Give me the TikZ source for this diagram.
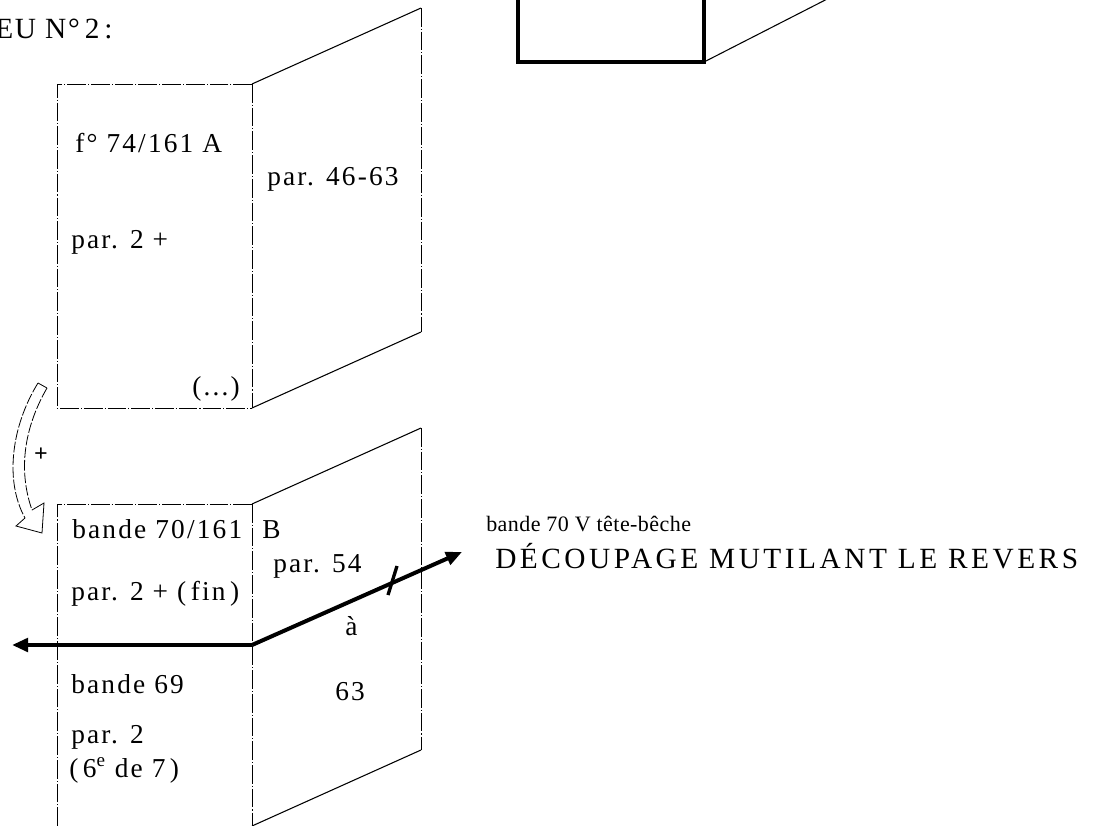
\documentclass[tikz,border=0pt]{standalone}
\usepackage{fontspec}
\setmainfont{Liberation Serif}
\newfontfamily\bodyf[LetterSpace=8]{Liberation Serif}
\newfontfamily\capf[LetterSpace=12]{Liberation Serif}
\newfontfamily\smf[LetterSpace=2]{Liberation Serif}
\newfontfamily\titf[LetterSpace=6]{Liberation Serif}
\usetikzlibrary{arrows.meta}
\begin{document}
\begin{tikzpicture}[x=0.75pt,y=-0.75pt,
  lbl/.style={anchor=base west, inner sep=0pt, font=\bodyf\fontsize{20.5}{24}\selectfont},
  edge/.style={line width=0.8pt},
  dashedge/.style={line width=0.6pt, dash pattern=on 14pt off 1.5pt on 0.8pt off 1.5pt},
  hollow/.style={line width=0.6pt, dash pattern=on 8pt off 1.5pt},
  bigarrow/.style={line width=3pt, -{Triangle[length=12pt,width=10pt]}},
]
\useasboundingbox (0,0) rectangle (1110,825);

% ---------- title ----------
\node[anchor=base west, inner sep=0pt, font=\titf\fontsize{22}{26}\selectfont] (title) at (-5,38) {EU N°\,2\,:};

% ---------- top-right thick box ----------
\draw[line width=3pt] (518,-6) -- (518,62) -- (704,62) -- (704,-6);
\draw[edge] (704,62) -- (837,-6);

% ---------- top folder ----------
\coordinate (TA) at (57,84);
\coordinate (TB) at (252,84);
\coordinate (TC) at (421,8);
\coordinate (TD) at (421,332);
\coordinate (TE) at (252,408);
\coordinate (TF) at (57,408);
\draw[dashedge] (TB) -- (TA) -- (TF) -- (TE);
\draw[dashedge] (TB) -- (TE);
\draw[dashedge] (TC) -- (TD);
\draw[edge] (TB) -- (TC);
\draw[edge] (TE) -- (TD);

\node[lbl] (fA) at (75,152) {f° 74/161 A};
\node[lbl] (p4663) at (267,185) {par. 46-63};
\node[lbl] (p2plus) at (71,248) {par. 2 +};
\node[lbl] (dots) at (192,395) {(...)};

% ---------- bottom folder ----------
\coordinate (BA) at (57,504);
\coordinate (BB) at (252,504);
\coordinate (BC) at (421,428);
\coordinate (BD) at (421,750);
\coordinate (BE) at (252,826);
\coordinate (BF) at (57,826);
\draw[dashedge] (BF) -- (BA) -- (BB);
\draw[dashedge] (BB) -- (BE);
\draw[dashedge] (BC) -- (BD);
\draw[edge] (BB) -- (BC);
\draw[edge] (BE) -- (BD);

\node[lbl] (b70) at (72,538) {bande 70/161};
\node[lbl] (B) at (262,538) {B};
\node[lbl] (p54) at (273,572) {par. 54};
\node[lbl] (p2fin) at (71,600) {par. 2 + (\,fin\,)};
\node[lbl] (a) at (345,635) {à};
\node[lbl] (b69) at (71,693) {bande 69};
\node[lbl] (n63) at (335,700) {63};
\node[lbl] (p2) at (71,743) {par. 2};
\node[lbl] (sixe) at (69,777) {(\,6\textsuperscript{e} de 7\,)};

% ---------- arrows ----------
\coordinate (J) at (252,645);
\coordinate (L) at (12,645);
\coordinate (R) at (462,552);
\coordinate (K1) at (388,595);
\coordinate (K2) at (397,566);
\draw[bigarrow] (J) -- (L);
\draw[bigarrow] (J) -- (R);
\draw[line width=2.5pt] (K1) -- (K2);

% ---------- right texts ----------
\node[anchor=base west, inner sep=0pt, font=\smf\fontsize{16.5}{19}\selectfont] (tb) at (486,531) {bande 70 V tête-bêche};
\node[anchor=base west, inner sep=0pt, font=\capf\fontsize{22}{26}\selectfont] (dec) at (495,568) {DÉCOUPAGE MUTILANT LE REVERS};

% ---------- curved hollow arrow ----------
\coordinate (c1) at (38,383);
\coordinate (c2) at (47,388);
\coordinate (c3) at (25,518);
\coordinate (c4) at (32,510);
\draw[hollow] (c1) .. controls (12,425) and (4,480) .. (c3);
\draw[hollow] (c2) .. controls (24,428) and (18,470) .. (c4);
\draw[line width=0.6pt] (c1) -- (c2);
\draw[line width=0.6pt] (c4) -- (44,503) -- (42,533) -- (16,526) -- (c3);
\node[inner sep=0pt, font=\bfseries\fontsize{18}{20}\selectfont] (plus) at (41,455) {+};
\end{tikzpicture}
\end{document}
